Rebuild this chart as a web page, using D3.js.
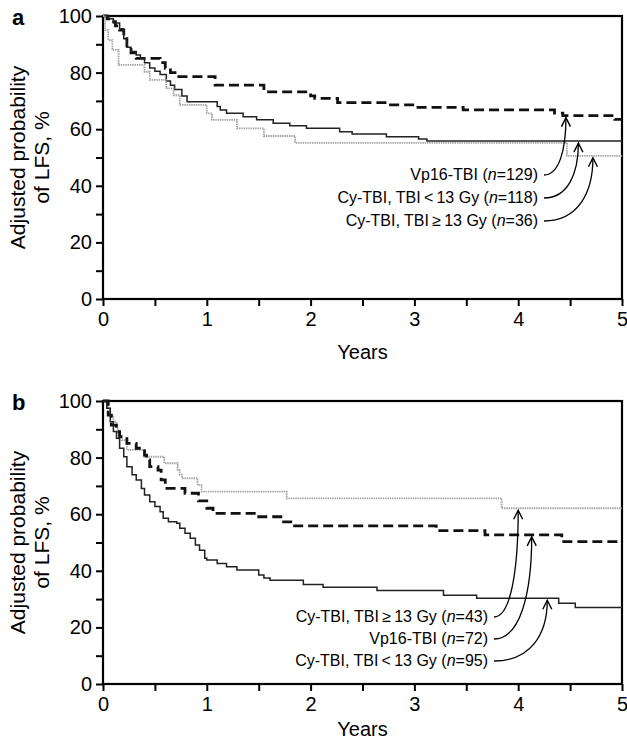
<!DOCTYPE html>
<html>
<head>
<meta charset="utf-8">
<script src="https://cdn.jsdelivr.net/npm/d3@7"></script>
<style>
  body { margin: 0; background: #fff; }
  svg { font-family: "Liberation Sans", Arial, Helvetica, sans-serif; }
</style>
</head>
<body>
<svg width="627" height="742"></svg>
<script>
// ---- data ----
const yTicks = [0, 20, 40, 60, 80, 100];
const yMinorTicks = [0, 10, 20, 30, 40, 50, 60, 70, 80, 90, 100];
const xTicks = [0, 1, 2, 3, 4, 5];
const xMinorTicks = [0, 0.5, 1, 1.5, 2, 2.5, 3, 3.5, 4, 4.5, 5];

// panel a
const vp16A_t = [0, 0.04, 0.08, 0.12, 0.16, 0.2, 0.23, 0.27, 0.32, 0.55, 0.6, 0.65, 0.71, 1.08, 1.55, 2.0, 2.04, 2.26, 2.75, 3.0, 3.47, 4.35, 4.43, 4.93];
const vp16A_s = [100, 99, 98, 96.5, 95, 92, 89, 87, 85, 83.5, 81.5, 80, 78.6, 75.6, 73.2, 71.8, 70.9, 69.4, 68.6, 67.7, 66.8, 65.7, 64.8, 63.5];
const cyLoA_t = [0, 0.05, 0.1, 0.16, 0.2, 0.23, 0.27, 0.32, 0.36, 0.4, 0.45, 0.5, 0.55, 0.61, 0.65, 0.69, 0.76, 0.81, 1.1, 1.13, 1.19, 1.35, 1.48, 1.64, 1.8, 1.96, 2.28, 2.4, 2.73, 3.04, 3.12];
const cyLoA_s = [100, 99, 97.5, 95.5, 92, 89, 87.5, 86.2, 85, 83.5, 81.6, 80.5, 79.3, 77, 75.5, 74, 71.7, 69.7, 68, 66.8, 65.6, 64.4, 63.3, 62.1, 61.2, 60.3, 59.1, 58.3, 57.3, 56.5, 55.8];
const cyHiA_t = [0, 0.02, 0.05, 0.09, 0.15, 0.4, 0.45, 0.5, 0.61, 0.68, 0.74, 1.0, 1.05, 1.29, 1.55, 1.85, 4.47];
const cyHiA_s = [100, 95, 91.5, 88, 82.7, 80.3, 77.4, 77.4, 74.4, 72, 68.6, 65.6, 63.3, 60.3, 57.6, 55.2, 50.6];

// panel b
const cyLoB_t = [0, 0.036, 0.07, 0.1, 0.13, 0.16, 0.2, 0.23, 0.28, 0.32, 0.37, 0.4, 0.45, 0.5, 0.55, 0.58, 0.63, 0.71, 0.74, 0.79, 0.84, 0.89, 0.93, 0.98, 1.0, 1.1, 1.19, 1.29, 1.5, 1.55, 1.61, 1.93, 2.12, 2.64, 3.28, 3.6, 4.39, 4.55];
const cyLoB_s = [100, 97.4, 92.7, 89.2, 86.8, 83.3, 80.3, 76.8, 73.9, 72.1, 69.1, 66.8, 64.4, 62.7, 60.9, 58.6, 57.3, 56.8, 55, 53.3, 51.5, 49.1, 47.3, 44.4, 43.8, 42.6, 41.4, 40.3, 38.5, 37.5, 36.7, 35.2, 34.2, 33, 31.4, 30.3, 28.5, 27];
const vp16B_t = [0, 0.05, 0.08, 0.13, 0.16, 0.23, 0.32, 0.4, 0.42, 0.45, 0.53, 0.56, 0.6, 0.79, 0.92, 1.0, 1.06, 1.5, 1.74, 1.83, 3.21, 3.68, 4.42];
const vp16B_s = [100, 95, 91.5, 89.2, 87.4, 85, 83.3, 80.9, 79.2, 76.8, 75.6, 72.1, 69.1, 67.4, 64.7, 62.1, 60.3, 59.1, 57.3, 55.9, 54.2, 52.7, 50.3];
const cyHiB_t = [0, 0.05, 0.07, 0.1, 0.13, 0.15, 0.18, 0.23, 0.4, 0.59, 0.72, 0.74, 0.76, 0.91, 0.95, 1.77, 3.84];
const cyHiB_s = [100, 97.4, 95, 92.7, 90.3, 88, 86.2, 82.7, 80.3, 78, 75.6, 74, 72.7, 70.3, 68, 65.6, 62.1];

// legend labels and arrow target times
const labelsA = [
  ['Vp16-TBI (', '129', ')'],
  ['Cy-TBI, TBI\u2009<\u200913 Gy (', '118', ')'],
  ['Cy-TBI, TBI\u2009\u2265\u200913 Gy (', '36', ')']
];
const arrowTimesA = [4.46, 4.58, 4.72];
const labelsB = [
  ['Cy-TBI, TBI\u2009\u2265\u200913 Gy (', '43', ')'],
  ['Vp16-TBI (', '72', ')'],
  ['Cy-TBI, TBI\u2009<\u200913 Gy (', '95', ')']
];
const arrowTimesB = [4.0, 4.13, 4.28];

// line styles per regimen
const styles = {
  vp16: { stroke: '#111', width: 2.8, dash: '10,5' },
  cyLo: { stroke: '#222', width: 1.5, dash: null },
  cyHi: { stroke: '#a0a0a0', width: 1.8, dash: '1.4,0.9' }
};

const svg = d3.select('svg');
const plotW = 519, plotH = 283;

function zip(t, s) { return t.map((d, i) => ({ t: d, s: s[i] })); }

// value of a step curve at time t
function valueAt(data, t) {
  let v = data[0].s;
  data.forEach(d => { if (d.t <= t) v = d.s; });
  return v;
}

function drawPanel(opt) {
  const g = svg.append('g').attr('transform', `translate(${opt.left}, ${opt.top})`);
  const x = d3.scaleLinear().domain([0, 5]).range([0, plotW]);
  const y = d3.scaleLinear().domain([0, 100]).range([plotH, 0]);

  // minor ticks (unlabelled)
  g.append('g')
    .call(d3.axisLeft(y).tickValues(yMinorTicks).tickSize(7).tickFormat(''))
    .call(a => a.select('.domain').remove())
    .selectAll('line').attr('stroke', '#000').attr('stroke-width', 2);
  g.append('g')
    .attr('transform', `translate(0, ${plotH})`)
    .call(d3.axisBottom(x).tickValues(xMinorTicks).tickSize(7).tickFormat(''))
    .call(a => a.select('.domain').remove())
    .selectAll('line').attr('stroke', '#000').attr('stroke-width', 2);

  // labels
  g.append('g')
    .call(d3.axisLeft(y).tickValues(yTicks).tickSize(0).tickPadding(11).tickFormat(d3.format('d')))
    .call(a => a.select('.domain').remove())
    .selectAll('text').attr('font-size', 20).attr('fill', '#000').attr('font-family', null);
  g.append('g')
    .attr('transform', `translate(0, ${plotH})`)
    .call(d3.axisBottom(x).tickValues(xTicks).tickSize(0).tickPadding(13).tickFormat(d3.format('d')))
    .call(a => a.select('.domain').remove())
    .selectAll('text').attr('font-size', 20).attr('fill', '#000').attr('font-family', null);

  // frame
  g.append('rect')
    .attr('width', plotW).attr('height', plotH)
    .attr('fill', 'none').attr('stroke', '#000').attr('stroke-width', 2.2);

  const line = d3.line().x(d => x(d.t)).y(d => y(d.s)).curve(d3.curveStepAfter);
  opt.series.forEach(sr => {
    const pts = sr.data.concat([{ t: 5, s: sr.data[sr.data.length - 1].s }]);
    const st = styles[sr.key];
    g.append('path')
      .attr('d', line(pts))
      .attr('fill', 'none')
      .attr('stroke', st.stroke)
      .attr('stroke-width', st.width)
      .attr('stroke-dasharray', st.dash);
  });

  // legend text + curved arrows
  opt.labels.forEach((lab, i) => {
    const by = opt.legendY[i];
    const txt = g.append('text')
      .attr('x', opt.legendX).attr('y', by)
      .attr('text-anchor', 'end').attr('font-size', 16);
    txt.append('tspan').text(lab[0]);
    txt.append('tspan').attr('font-style', 'italic').text('n');
    txt.append('tspan').text('=' + lab[1] + lab[2]);

    const sr = opt.series[opt.arrowSeries[i]];
    const ex = x(opt.arrowTimes[i]);
    const ey = y(valueAt(sr.data, opt.arrowTimes[i])) + 2;
    const sx = opt.legendX + 6, sy = by - 5;
    g.append('path')
      .attr('d', `M${sx},${sy} C${sx + (ex - sx) * 0.7},${sy} ${ex},${sy - (sy - ey) * 0.45} ${ex},${ey}`)
      .attr('fill', 'none').attr('stroke', '#000').attr('stroke-width', 1.3);
    g.append('path')
      .attr('d', `M${ex - 4.5},${ey + 9} L${ex},${ey} L${ex + 4.5},${ey + 9}`)
      .attr('fill', 'none').attr('stroke', '#000').attr('stroke-width', 1.4);
  });

  // axis titles
  g.append('text')
    .attr('x', plotW / 2).attr('y', plotH + opt.xTitleOffset)
    .attr('text-anchor', 'middle').attr('font-size', 20).text('Years');
  const yt = g.append('text')
    .attr('transform', `translate(${-78}, ${plotH / 2}) rotate(-90)`)
    .attr('text-anchor', 'middle').attr('font-size', 21);
  yt.append('tspan').attr('x', 0).attr('dy', 0).text('Adjusted probability');
  yt.append('tspan').attr('x', 0).attr('dy', 24).text('of LFS, %');

  // panel letter
  g.append('text')
    .attr('x', -91).attr('y', 9)
    .attr('font-size', 22).attr('font-weight', 'bold').text(opt.letter);
}

drawPanel({
  letter: 'a', left: 103, top: 16, xTitleOffset: 60,
  series: [
    { key: 'vp16', data: zip(vp16A_t, vp16A_s) },
    { key: 'cyLo', data: zip(cyLoA_t, cyLoA_s) },
    { key: 'cyHi', data: zip(cyHiA_t, cyHiA_s) }
  ],
  labels: labelsA, arrowTimes: arrowTimesA, arrowSeries: [0, 1, 2],
  legendX: 435, legendY: [164, 187, 210]
});

drawPanel({
  letter: 'b', left: 103, top: 401, xTitleOffset: 52,
  series: [
    { key: 'cyHi', data: zip(cyHiB_t, cyHiB_s) },
    { key: 'vp16', data: zip(vp16B_t, vp16B_s) },
    { key: 'cyLo', data: zip(cyLoB_t, cyLoB_s) }
  ],
  labels: labelsB, arrowTimes: arrowTimesB, arrowSeries: [0, 1, 2],
  legendX: 385, legendY: [221, 243, 265]
});
</script>
</body>
</html>
